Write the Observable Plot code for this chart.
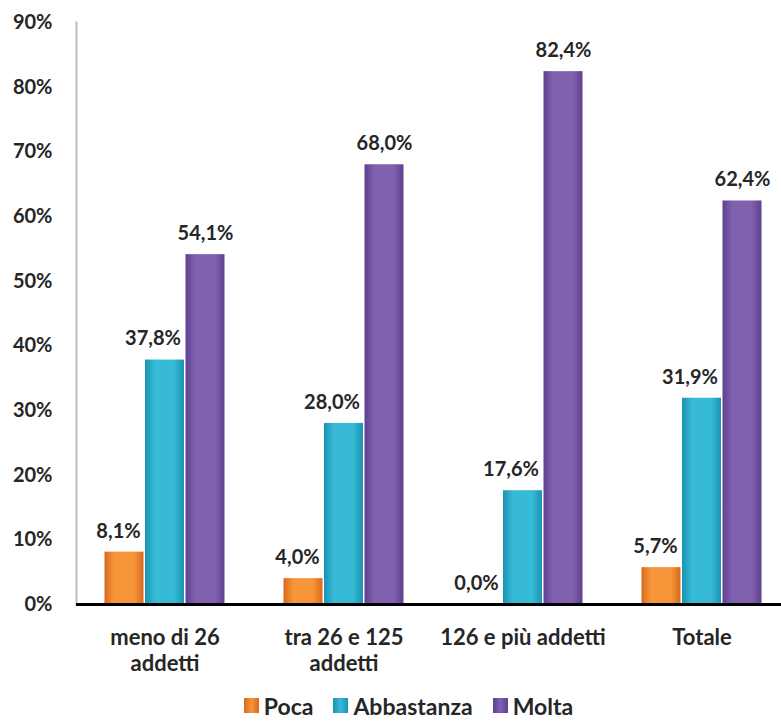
<!DOCTYPE html>
<html>
<head>
<meta charset="utf-8">
<script src="https://cdn.jsdelivr.net/npm/d3@7"></script>
<script src="https://cdn.jsdelivr.net/npm/@observablehq/plot@0.6"></script>
<style>
  body { margin: 0; background: #fff; font-family: Lato, "Open Sans", sans-serif; }
  #chart svg { display: block; }
  #legend { display: flex; justify-content: center; align-items: center; height: 31px; font-weight: bold; font-size: 23px; color: #262626; padding-left: 36px; }
  .item { display: flex; align-items: center; margin: 0 10px; }
  .sw { width: 15px; height: 15px; margin-right: 5px; }
</style>
</head>
<body>
<div id="chart"></div>
<div id="legend"></div>
<script>
const categories = ["meno di 26\naddetti", "tra 26 e 125\naddetti", "126 e più addetti", "Totale"];
const series = ["Poca", "Abbastanza", "Molta"];
const poca = [8.1, 4.0, 0.0, 5.7];
const abbastanza = [37.8, 28.0, 17.6, 31.9];
const molta = [54.1, 68.0, 82.4, 62.4];
const yTicks = [0, 10, 20, 30, 40, 50, 60, 70, 80, 90];

const colors = {
  Poca: ["#d9691c", "#f7953a", "#d9691c"],
  Abbastanza: ["#1a93b3", "#37bad6", "#1a93b3"],
  Molta: ["#5f3f90", "#8061b0", "#5f3f90"]
};
const ids = {Poca: "gPoca", Abbastanza: "gAbb", Molta: "gMolta"};
const offsets = {Poca: -40.5, Abbastanza: 0, Molta: 40.5};
const labelShift = {Poca: -6, Abbastanza: -12, Molta: 0};

const valuesBySeries = {Poca: poca, Abbastanza: abbastanza, Molta: molta};
const data = series.flatMap(s => categories.map((c, i) => ({cat: c, series: s, value: valuesBySeries[s][i]})));
const fmt = v => v.toFixed(1).replace(".", ",") + "%";

const font = {fontFamily: "Lato, 'Open Sans', sans-serif", fontWeight: "bold", fontSize: 20, fill: "#262626"};

const marks = [];
for (const s of series) {
  const d = data.filter(r => r.series === s);
  marks.push(Plot.barY(d, {x: "cat", y: "value", fill: `url(#${ids[s]})`, insetLeft: 70, insetRight: 70, dx: offsets[s]}));
}
for (const s of series) {
  const d = data.filter(r => r.series === s);
  marks.push(Plot.text(d, {x: "cat", y: "value", text: r => fmt(r.value), dx: offsets[s] + labelShift[s], dy: -21, ...font}));
}
marks.push(Plot.frame({anchor: "left", stroke: "#b8bcbf", strokeWidth: 2}));
marks.push(Plot.ruleY([0], {stroke: "#000", strokeWidth: 3}));
marks.push(Plot.axisY({ticks: yTicks, tickSize: 0, tickPadding: 24, tickFormat: d => d + "%", label: null, ...font}));
marks.push(Plot.axisX({tickSize: 0, tickPadding: 22, lineHeight: 1.18, label: null, ...font, fontSize: 22}));

const chart = Plot.plot({
  width: 781,
  height: 690,
  marginTop: 22,
  marginBottom: 86,
  marginLeft: 76,
  marginRight: 0,
  style: {fontFamily: "Lato, 'Open Sans', sans-serif", color: "#262626", background: "#fff"},
  x: {domain: categories, range: [75, 791], padding: 0, axis: null, label: null},
  y: {domain: [0, 90], axis: null, label: null},
  marks
});

const svg = d3.select(chart);
const defs = svg.insert("defs", ":first-child");
for (const s of series) {
  const g = defs.append("linearGradient").attr("id", ids[s]).attr("x1", 0).attr("x2", 1).attr("y1", 0).attr("y2", 0);
  g.append("stop").attr("offset", "0%").attr("stop-color", colors[s][0]);
  g.append("stop").attr("offset", "25%").attr("stop-color", colors[s][1]);
  g.append("stop").attr("offset", "75%").attr("stop-color", colors[s][1]);
  g.append("stop").attr("offset", "100%").attr("stop-color", colors[s][2]);
}
document.getElementById("chart").appendChild(chart);

const legend = d3.select("#legend");
for (const s of series) {
  const it = legend.append("div").attr("class", "item");
  it.append("div").attr("class", "sw").style("background", `linear-gradient(90deg, ${colors[s][0]}, ${colors[s][1]}, ${colors[s][2]})`);
  it.append("span").text(s);
}
</script>
</body>
</html>
